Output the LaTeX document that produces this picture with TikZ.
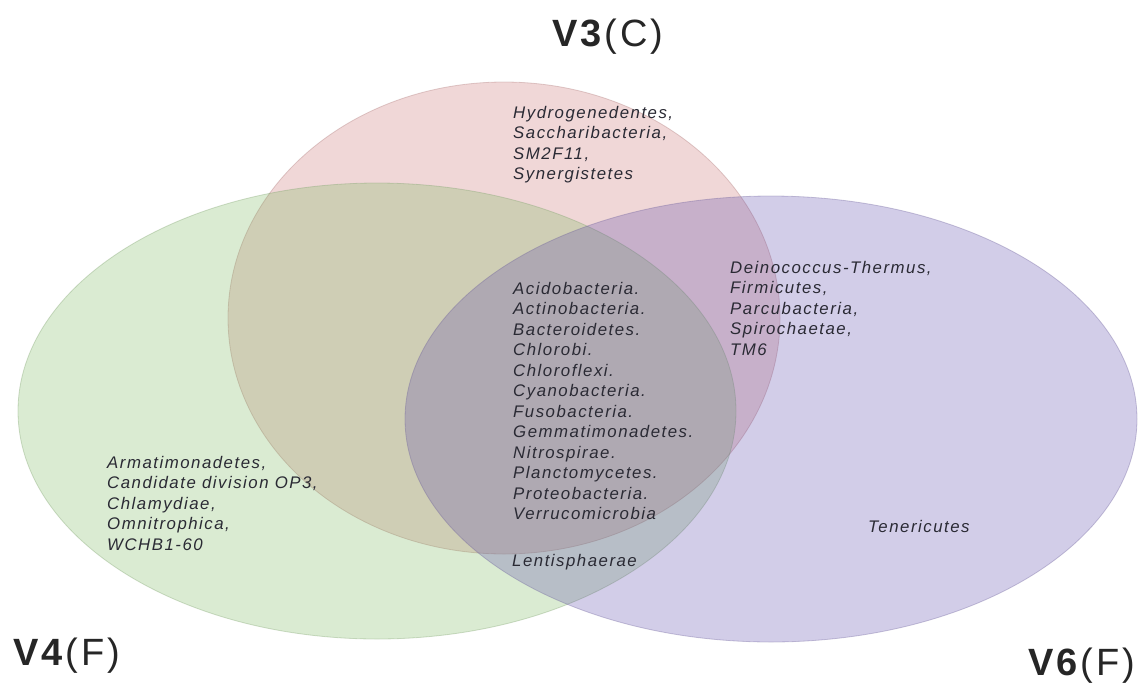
\documentclass[tikz,border=0pt]{standalone}
\usepackage{fontspec}
\setmainfont{Liberation Sans}
\newfontfamily\taxfont[LetterSpace=9]{Liberation Sans}
\newfontfamily\setfont[LetterSpace=8]{Liberation Sans}
\definecolor{pinkset}{RGB}{200,110,110}
\definecolor{greenset}{RGB}{120,182,92}
\definecolor{purpleset}{RGB}{92,72,170}
\definecolor{txt}{RGB}{42,42,52}
\begin{document}
\begin{tikzpicture}[x=1pt,y=-1pt,
  setshape/.style={fill opacity=0.27,draw opacity=0.35,line width=0.8pt},
  taxa/.style={inner sep=0pt,anchor=base west,text=txt,font=\taxfont\itshape\fontsize{16.8}{20.5}\selectfont},
  setlabel/.style={inner sep=0pt,anchor=base west,text=black!85,font=\setfont\fontsize{38}{40}\selectfont}]
\useasboundingbox (0,0) rectangle (1143,683);
\fill[white] (0,0) rectangle (1143,683);
% sets
\draw[setshape,fill=pinkset,draw=pinkset!60!gray] (504,318) ellipse [x radius=276, y radius=236];
\draw[setshape,fill=greenset,draw=greenset!60!gray] (377,411) ellipse [x radius=359, y radius=228];
\draw[setshape,fill=purpleset,draw=purpleset!60!gray] (771,419) ellipse [x radius=366, y radius=223];
% set labels
\node[setlabel] (v3) at (552,46) {\textbf{V3}(C)};
\node[setlabel] (v4) at (13,665) {\textbf{V4}(F)};
\node[setlabel] (v6) at (1028,675) {\textbf{V6}(F)};
% taxa
\node[taxa] (onlyV3) at (513,118) {\begin{tabular}[t]{@{}l@{}}Hydrogenedentes,\\Saccharibacteria,\\SM2F11,\\Synergistetes\end{tabular}};
\node[taxa] (all) at (513,294) {\begin{tabular}[t]{@{}l@{}}Acidobacteria.\\Actinobacteria.\\Bacteroidetes.\\Chlorobi.\\Chloroflexi.\\Cyanobacteria.\\Fusobacteria.\\Gemmatimonadetes.\\Nitrospirae.\\Planctomycetes.\\Proteobacteria.\\Verrucomicrobia\end{tabular}};
\node[taxa] (v3v6) at (730,273) {\begin{tabular}[t]{@{}l@{}}Deinococcus-Thermus,\\Firmicutes,\\Parcubacteria,\\Spirochaetae,\\TM6\end{tabular}};
\node[taxa] (onlyV4) at (107,468) {\begin{tabular}[t]{@{}l@{}}Armatimonadetes,\\Candidate division OP3,\\Chlamydiae,\\Omnitrophica,\\WCHB1-60\end{tabular}};
\node[taxa] (v4v6) at (512,566) {Lentisphaerae};
\node[taxa] (onlyV6) at (868,532) {Tenericutes};
\end{tikzpicture}
\end{document}
